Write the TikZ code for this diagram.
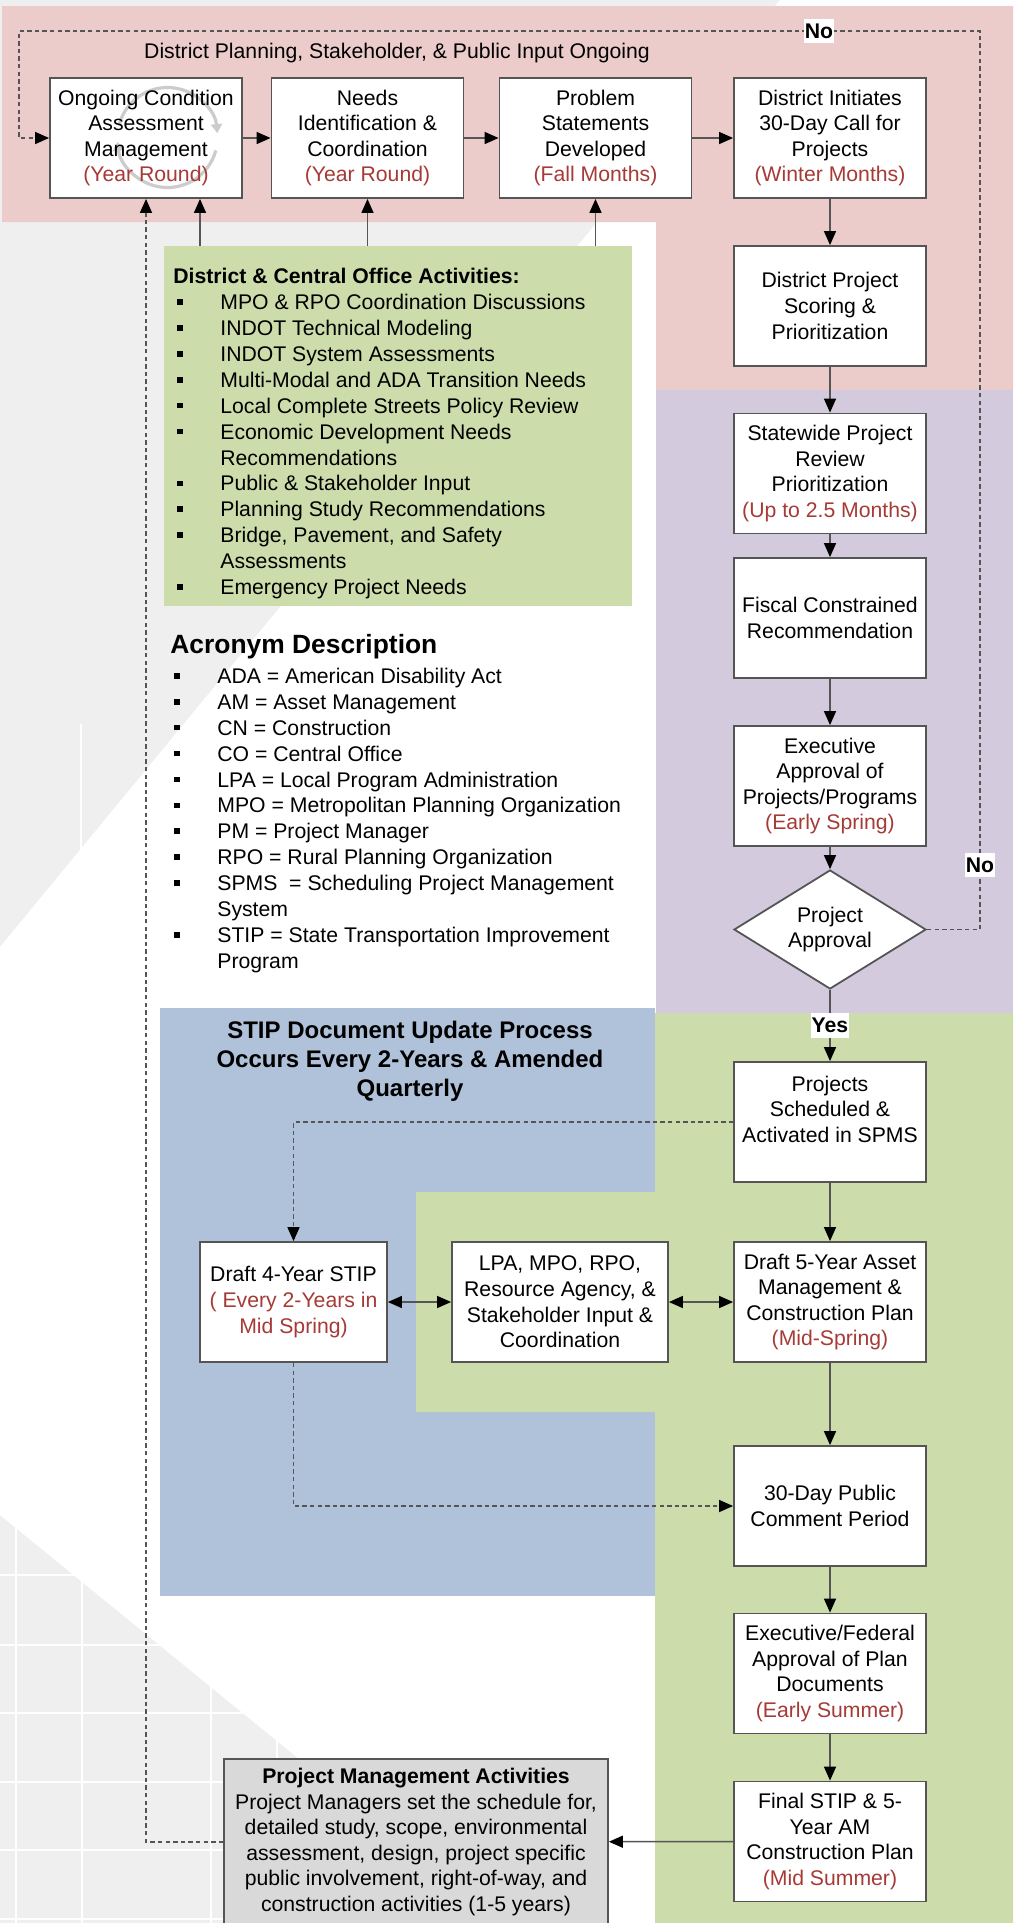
\documentclass[tikz,border=0pt]{standalone}
\usepackage{fontspec}
\setmainfont{Liberation Sans}
\usetikzlibrary{arrows.meta,shapes.geometric}

\definecolor{bandpink}{RGB}{236,204,203}
\definecolor{bandpurple}{RGB}{212,202,222}
\definecolor{bandgreen}{RGB}{205,220,171}
\definecolor{bandblue}{RGB}{176,194,218}
\definecolor{pmgrey}{RGB}{217,217,217}
\definecolor{bggrey}{RGB}{239,239,239}
\definecolor{edgegrey}{RGB}{85,85,85}
\definecolor{monthred}{RGB}{166,58,54}

\newcommand{\when}[1]{\\\textcolor{monthred}{#1}}
\newcommand{\sqb}{\makebox[23.5pt][l]{\hspace{2pt}\rule[2.4pt]{2.8pt}{2.8pt}}}
\newcommand{\sqskip}{\makebox[23.5pt]{}}

\tikzset{
  procbox/.style={draw=edgegrey, fill=white, line width=0.9pt,
    minimum width=96pt, minimum height=60pt, inner sep=1pt, align=center,
    font=\fontsize{10.6}{12.8}\selectfont},
  decision/.style={procbox, diamond, aspect=1.6, minimum height=59.5pt},
  flow/.style={draw=edgegrey, line width=0.75pt,
    -{Triangle[length=7pt,width=6pt,color=black]}},
  twoway/.style={draw=edgegrey, line width=0.75pt,
    {Triangle[length=7pt,width=6pt,color=black]}-{Triangle[length=7pt,width=6pt,color=black]}},
  dashflow/.style={flow, dash pattern=on 2.2pt off 1.6pt},
  notetag/.style={fill=white, inner xsep=0.5pt, inner ysep=2.5pt,
    font=\fontsize{10.6}{12}\selectfont\bfseries},
  listtext/.style={align=left, inner sep=0pt, anchor=north west,
    font=\fontsize{10.6}{12.95}\selectfont},
  cyclearc/.style={black!20, line width=1.6pt, -{Triangle[length=4.5pt,width=5.5pt]}}
}

\begin{document}
\begin{tikzpicture}[x=0.5pt,y=-0.5pt]
\useasboundingbox (0,0) rectangle (1013,1923);
\clip (0,0) rectangle (1013,1923);

% backdrop
\fill[bggrey] (0,0) rectangle (1013,1923);
\fill[white] (780,0) -- (1013,0) -- (1013,1923) -- (500,1923) -- (0,1515) -- (0,947) -- cycle;
\draw[white, line width=1pt] (81,724) -- (81,858);
\begin{scope}
  \clip (0,1515) -- (500,1923) -- (0,1923) -- cycle;
  \foreach \gx in {16,82,211,277}
    \draw[white, line width=1pt] (\gx,1500) -- (\gx,1923);
  \foreach \gy in {1575,1645,1713,1782,1850,1919}
    \draw[white, line width=1pt] (0,\gy) -- (500,\gy);
\end{scope}

% coloured bands
\fill[bandpink] (2,6) -- (1013,6) -- (1013,390) -- (656,390) -- (656,222) -- (2,222) -- cycle;
\fill[bandpurple] (656,390) rectangle (1013,1013);
\fill[bandblue] (160,1008) rectangle (655,1596);
\fill[bandgreen] (655,1013) -- (1013,1013) -- (1013,1923) -- (655,1923) -- (655,1412)
  -- (416,1412) -- (416,1192) -- (655,1192) -- cycle;

% cycle icon behind the first box
\fill[white] (50,78) rectangle (242,198);
\begin{scope}[y=0.5pt]
  \draw[cyclearc] (167.5,-137.5) ++(165:50) arc[start angle=165, end angle=5, radius=50];
  \draw[cyclearc] (167.5,-137.5) ++(-15:50) arc[start angle=-15, end angle=-175, radius=50];
\end{scope}

\node (ongoing) at (397,53) {\fontsize{10.6}{12}\selectfont District Planning, Stakeholder, \& Public Input Ongoing};

\node[procbox, fill=none] (b1) at (146,138) {Ongoing Condition\\Assessment\\Management\when{(Year Round)}};
\node[procbox] (b2) at (367.5,138) {Needs\\Identification \&\\Coordination\when{(Year Round)}};
\node[procbox] (b3) at (595.5,138) {Problem\\Statements\\Developed\when{(Fall Months)}};
\node[procbox] (b4) at (830,138) {District Initiates\\30-Day Call for\\Projects\when{(Winter Months)}};
\node[procbox] (b5) at (830,306) {District Project\\Scoring \&\\Prioritization};
\node[procbox] (b6) at (830,473.5) {Statewide Project\\Review\\Prioritization\when{(Up to 2.5 Months)}};
\node[procbox] (b7) at (830,618) {Fiscal Constrained\\Recommendation};
\node[procbox] (b8) at (830,786) {Executive\\Approval of\\Projects/Programs\when{(Early Spring)}};
\node[decision] (chk) at (830,929.5) {Project\\Approval};
\node[procbox] (b9) at (830,1122) {Projects\\Scheduled \&\\Activated in SPMS\\\mbox{}};
\node[procbox, minimum width=93.5pt] (b10) at (293.5,1302) {Draft 4-Year STIP\when{( Every 2-Years in}\\\textcolor{monthred}{Mid Spring)}};
\node[procbox, minimum width=108pt] (b11) at (560,1302) {LPA, MPO, RPO,\\Resource Agency, \&\\Stakeholder Input \&\\Coordination};
\node[procbox] (b12) at (830,1302) {Draft 5-Year Asset\\Management \&\\Construction Plan\when{(Mid-Spring)}};
\node[procbox] (b13) at (830,1506) {30-Day Public\\Comment Period};
\node[procbox] (b14) at (830,1673.5) {Executive/Federal\\Approval of Plan\\Documents\when{(Early Summer)}};
\node[procbox] (b15) at (830,1841.5) {Final STIP \& 5-\\Year AM\\Construction Plan\when{(Mid Summer)}};
\node[procbox, fill=pmgrey, minimum width=192pt, minimum height=83pt, anchor=north] (pm) at (416,1758)
  {\textbf{Project Management Activities}\\Project Managers set the schedule for,\\detailed study, scope, environmental\\assessment, design, project specific\\public involvement, right-of-way, and\\construction activities (1-5 years)};

% activities and acronyms
\node[fill=bandgreen, minimum width=234pt, minimum height=180pt, anchor=north west, inner sep=0pt] (acts) at (164,246) {};
\node[listtext] (actlist) at (173,268) {\textbf{District \& Central Office Activities:}\\
\sqb MPO \& RPO Coordination Discussions\\
\sqb INDOT Technical Modeling\\
\sqb INDOT System Assessments\\
\sqb Multi-Modal and ADA Transition Needs\\
\sqb Local Complete Streets Policy Review\\
\sqb Economic Development Needs\\
\sqskip Recommendations\\
\sqb Public \& Stakeholder Input\\
\sqb Planning Study Recommendations\\
\sqb Bridge, Pavement, and Safety\\
\sqskip Assessments\\
\sqb Emergency Project Needs};
\node[listtext] (acro) at (170,634) {{\fontsize{13.2}{15}\selectfont\bfseries Acronym Description}\\[2pt]
\sqb ADA = American Disability Act\\
\sqb AM = Asset Management\\
\sqb CN = Construction\\
\sqb CO = Central Office\\
\sqb LPA = Local Program Administration\\
\sqb MPO = Metropolitan Planning Organization\\
\sqb PM = Project Manager\\
\sqb RPO = Rural Planning Organization\\
\sqb SPMS\ \ = Scheduling Project Management\\
\sqskip System\\
\sqb STIP = State Transportation Improvement\\
\sqskip Program};
\node[align=center, font=\fontsize{12}{14.5}\selectfont\bfseries] (stipnote) at (410,1061)
  {STIP Document Update Process\\Occurs Every 2-Years \& Amended\\Quarterly};

% connectors
\coordinate (loopNE) at (980,31);
\coordinate (loopNW) at (19,31);
\draw[flow] (b1) -- (b2);
\draw[flow] (b2) -- (b3);
\draw[flow] (b3) -- (b4);
\draw[flow] (b4) -- (b5);
\draw[flow] (b5) -- (b6);
\draw[flow] (b6) -- (b7);
\draw[flow] (b7) -- (b8);
\draw[flow] (b8) -- (chk);
\draw[flow] (chk) -- (b9) node[notetag, pos=0.5] (yes) {Yes};
\draw[flow] (b9) -- (b12);
\draw[flow] (b12) -- (b13);
\draw[flow] (b13) -- (b14);
\draw[flow] (b14) -- (b15);
\draw[flow] (b15) -- (pm);
\draw[twoway] (b10) -- (b11);
\draw[twoway] (b11) -- (b12);
\draw[dashflow] (b9) -| (b10);
\draw[dashflow] (b10) |- (b13);
\draw[dashflow] (pm.west) -| (b1.south);
\draw[dashflow] (chk.east) -| (loopNE) -- (loopNW) |- (b1.west);
\draw[flow] ([xshift=27pt]b1.south |- acts.north) -- ([xshift=27pt]b1.south);
\draw[flow] (b2.south |- acts.north) -- (b2.south);
\draw[flow] (b3.south |- acts.north) -- (b3.south);
\node[notetag] (no1) at (819,31) {No};
\node[notetag] (no2) at (980,865) {No};

\end{tikzpicture}
\end{document}
